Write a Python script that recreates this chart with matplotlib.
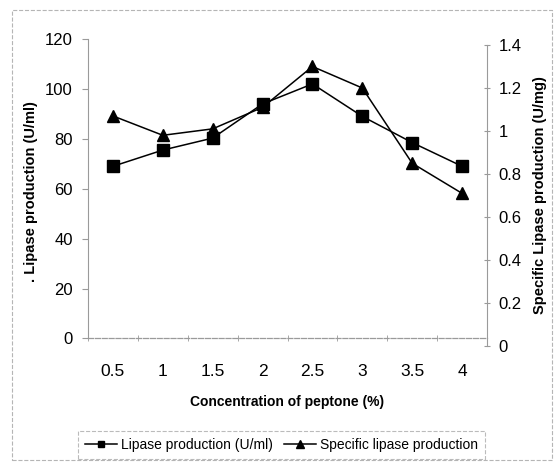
import matplotlib
matplotlib.use('Agg')
import matplotlib.pyplot as plt
from matplotlib.patches import Rectangle

plt.rcParams['font.family'] = ['Liberation Sans', 'DejaVu Sans']

# data
conc = ['0.5', '1', '1.5', '2', '2.5', '3', '3.5', '4']
lipase = [69, 75.5, 80.3, 94, 102, 89, 78.5, 69]          # U/ml (left axis)
specific = [1.07, 0.98, 1.01, 1.11, 1.30, 1.20, 0.85, 0.71]  # U/mg (right axis)
left_ticks = [0, 20, 40, 60, 80, 100, 120]
right_ticks = [0, 0.2, 0.4, 0.6, 0.8, 1, 1.2, 1.4]
right_ticklabels = ['0', '0.2', '0.4', '0.6', '0.8', '1', '1.2', '1.4']

W, H = 554, 465
fig = plt.figure(figsize=(W / 100, H / 100), dpi=100)

def rect(x0, y_top, x1, y_bot):
    # pixel box -> figure fraction
    return [x0 / W, 1 - y_bot / H, (x1 - x0) / W, (y_bot - y_top) / H]

spine_col = '#9a9a9a'
x = list(range(len(conc)))

ax = fig.add_axes(rect(88, 39, 487, 338.5))
ax.patch.set_alpha(0)
l1, = ax.plot(x, lipase, color='black', lw=1.1, marker='s', ms=8,
              label='Lipase production (U/ml)')
ax.set_xlim(-0.5, len(conc) - 0.5)
ax.set_ylim(0, 120)
ax.set_yticks(left_ticks)
ax.set_xticks(x)
ax.set_xticklabels(conc)
ax.set_xticks([i + 0.5 for i in range(-1, len(conc))], minor=True)
ax.tick_params(axis='x', which='major', length=0, pad=18, labelsize=12.5)
ax.tick_params(axis='x', which='minor', length=5, direction='inout', color=spine_col)
ax.tick_params(axis='y', length=4, direction='out', color=spine_col, labelsize=12, pad=7)
for s in ['top', 'right']:
    ax.spines[s].set_visible(False)
ax.spines['left'].set_color(spine_col)
ax.spines['left'].set_linewidth(0.8)
ax.spines['bottom'].set_color(spine_col)
ax.spines['bottom'].set_linewidth(0.9)
ax.spines['bottom'].set_linestyle((0, (4, 1.5)))
ax.set_xlabel('Concentration of peptone (%)', fontsize=10, fontweight='bold', labelpad=12)
ax.set_ylabel('. Lipase production (U/ml)', fontsize=10.5, fontweight='bold')
ax.yaxis.set_label_coords(-0.125, 0.49)

# right axis sits a few pixels lower in the scan
ax2 = fig.add_axes(rect(88, 45, 487, 346), sharex=ax)
ax2.patch.set_alpha(0)
l2, = ax2.plot(x, specific, color='black', lw=1.1, marker='^', ms=9,
               label='Specific lipase production')
ax2.set_ylim(0, 1.4)
ax2.set_yticks(right_ticks)
ax2.set_yticklabels(right_ticklabels)
ax2.yaxis.tick_right()
ax2.yaxis.set_label_position('right')
for s in ['top', 'left', 'bottom']:
    ax2.spines[s].set_visible(False)
ax2.spines['right'].set_color(spine_col)
ax2.spines['right'].set_linewidth(0.8)
ax2.tick_params(axis='y', length=5, direction='inout', color=spine_col, labelsize=12, pad=6)
ax2.tick_params(axis='x', bottom=False, labelbottom=False, which='both')
ax2.set_ylabel('Specific Lipase production (U/mg)', fontsize=10.5, fontweight='bold')
ax2.yaxis.set_label_coords(1.115, 0.5)

leg = fig.legend(handles=[l1, l2], loc='center', ncol=2,
                 bbox_to_anchor=((80 + 483) / 2 / W, 1 - 445 / H),
                 fontsize=10, frameon=True, fancybox=False, markerscale=0.6,
                 handlelength=2.3, handletextpad=0.3, columnspacing=0.8,
                 borderpad=0.5)
leg.get_frame().set_edgecolor('#aaaaaa')
leg.get_frame().set_linestyle('--')
leg.get_frame().set_linewidth(0.8)

# chart area border (dashed, faint)
fig.patches.append(Rectangle((12 / W, 1 - 460 / H), (552 - 12) / W, (460 - 10) / H,
                             transform=fig.transFigure, fill=False,
                             edgecolor='#b5b5b5', lw=0.8, ls='--'))

fig.savefig('out.png', dpi=100)
